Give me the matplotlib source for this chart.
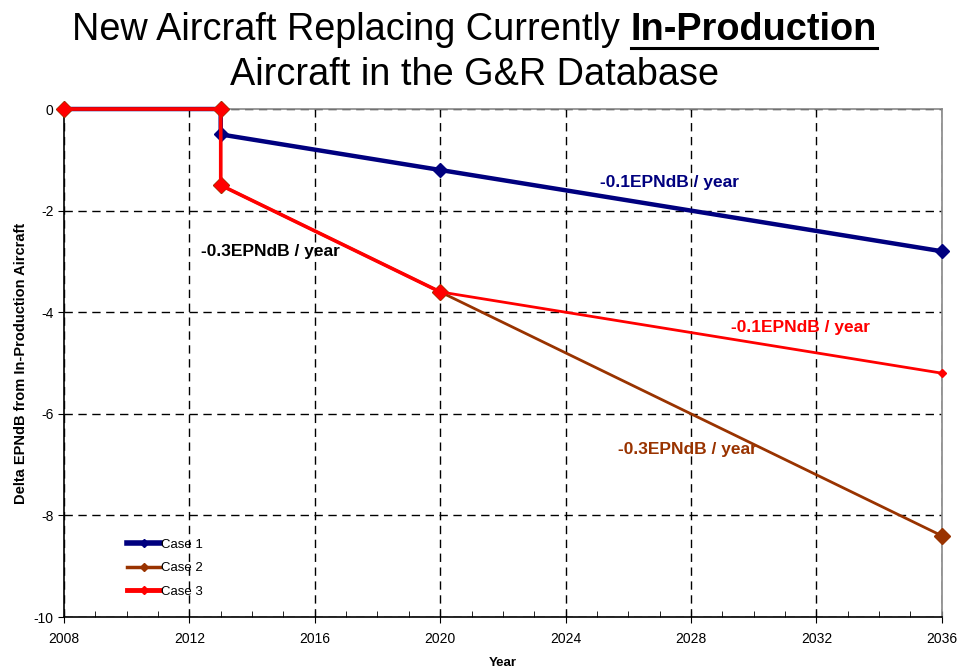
import matplotlib.pyplot as plt
from matplotlib.lines import Line2D
from matplotlib.ticker import MultipleLocator

plt.rcParams['font.family'] = ['Liberation Sans', 'DejaVu Sans']
plt.rcParams['axes.unicode_minus'] = False

# step data
years = [2008, 2013, 2013, 2020, 2036]
case1 = [0, 0, -0.5, -1.2, -2.8]
case2 = [0, 0, -1.5, -3.6, -8.4]
case3 = [0, 0, -1.5, -3.6, -5.2]

x_ticks = [2008, 2012, 2016, 2020, 2024, 2028, 2032, 2036]
y_ticks = [0, -2, -4, -6, -8, -10]

navy = '#00007f'
brown = '#993300'
red = '#ff0000'

fig = plt.figure(figsize=(9.62, 6.68), dpi=100)
ax = fig.add_axes([0.0665, 0.0763, 0.9125, 0.7605])

ax.plot(years, case1, color=navy, lw=3.2, marker='D', ms=7, label='Case 1',
        zorder=3, clip_on=False)
ax.plot(years, case2, color=brown, lw=2, marker='D', ms=8, label='Case 2',
        zorder=4, clip_on=False)
# red line is slightly thicker before 2020
ax.plot(years[:4], case3[:4], color=red, lw=2.6, marker='D', ms=7.5, zorder=5,
        clip_on=False)
ax.plot(years[3:], case3[3:], color=red, lw=2, zorder=5, clip_on=False)
ax.plot(years[-1:], case3[-1:], color=red, marker='D', ms=4.5, ls='none',
        zorder=5, clip_on=False)

# legend handles use small markers
handles = [Line2D([], [], color=navy, lw=4, marker='D', ms=4),
           Line2D([], [], color=brown, lw=2.5, marker='D', ms=4),
           Line2D([], [], color=red, lw=3.5, marker='D', ms=4)]
ax.legend(handles, ['Case 1', 'Case 2', 'Case 3'], loc='upper left',
          bbox_to_anchor=(0.066, 0.165), frameon=False, fontsize=9.5,
          handlelength=2.5, handletextpad=0.1, labelspacing=0.85,
          borderaxespad=0)

ax.set_xlim(2008, 2036)
ax.set_ylim(-10, 0)
ax.set_xticks(x_ticks)
ax.set_yticks(y_ticks)
ax.xaxis.set_minor_locator(MultipleLocator(1))
ax.grid(True, which='major', color='black', ls=(0, (6, 4)), lw=1)
ax.tick_params(axis='x', which='major', direction='inout', length=9, labelsize=10, pad=6)
ax.tick_params(axis='x', which='minor', direction='in', length=4)
ax.tick_params(axis='y', which='major', direction='out', length=4, labelsize=10)

for side in ['left', 'bottom']:
    ax.spines[side].set_color('black')
    ax.spines[side].set_linewidth(1.2)
for side in ['top', 'right']:
    ax.spines[side].set_color('#888888')
    ax.spines[side].set_linewidth(1.2)

ax.set_xlabel('Year', fontsize=9.5, fontweight='bold', labelpad=8)
ax.set_ylabel('Delta EPNdB from In-Production Aircraft', fontsize=10.5,
              fontweight='bold', labelpad=4)

# slope labels
ax.text(2027.3, -1.44, '-0.1EPNdB / year', color=navy, fontsize=12.5,
        fontweight='bold', ha='center', va='center')
ax.text(2014.6, -2.80, '-0.3EPNdB / year', color='black', fontsize=12.5,
        fontweight='bold', ha='center', va='center')
ax.text(2031.5, -4.31, '-0.1EPNdB / year', color=red, fontsize=12.5,
        fontweight='bold', ha='center', va='center')
ax.text(2027.9, -6.71, '-0.3EPNdB / year', color=brown, fontsize=12.5,
        fontweight='bold', ha='center', va='center')

# title: first line has a bold underlined part
t1 = fig.text(0, 0.955, 'New Aircraft Replacing Currently ', fontsize=27.3,
              ha='left', va='center')
t2 = fig.text(0, 0.955, 'In-Production', fontsize=27.3, fontweight='bold',
              ha='left', va='center')
fig.canvas.draw()
r = fig.canvas.get_renderer()
w1 = t1.get_window_extent(r).width / fig.bbox.width
w2 = t2.get_window_extent(r).width / fig.bbox.width
x0 = 0.4935 - (w1 + w2) / 2
t1.set_x(x0)
t2.set_x(x0 + w1)
fig.add_artist(Line2D([x0 + w1, x0 + w1 + w2], [0.928, 0.928], color='black',
                      lw=2.2, transform=fig.transFigure))
fig.text(0.4935, 0.887, 'Aircraft in the G&R Database', fontsize=27.3,
         ha='center', va='center')

fig.savefig('out.png')
